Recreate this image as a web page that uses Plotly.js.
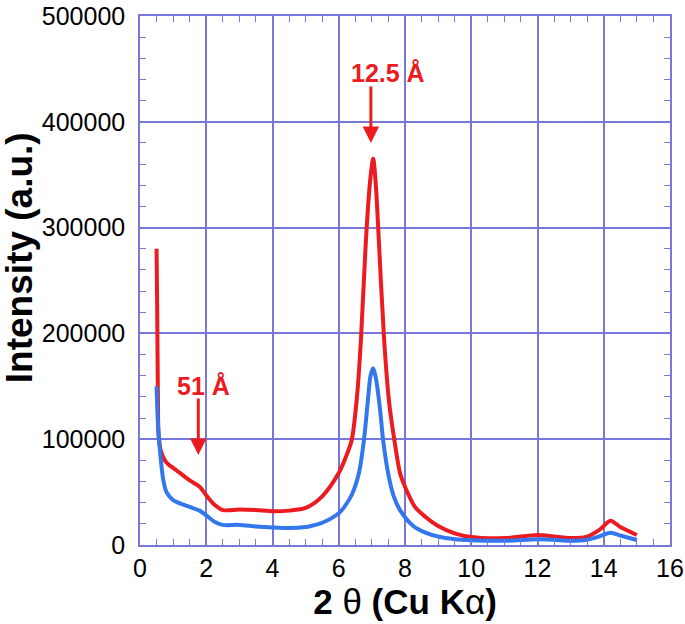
<!DOCTYPE html>
<html>
<head>
<meta charset="utf-8">
<script src="https://cdn.plot.ly/plotly-3.0.1.min.js"></script>
<style>
  body { margin: 0; background: #fff; }
</style>
</head>
<body>
<div id="chart"></div>
<script>
// 2 theta values (deg) and intensities
var redX = [0.5, 0.52, 0.54, 0.56, 0.62, 0.75, 0.9, 1.0, 1.5, 1.8, 2.0, 2.25, 2.5, 3.0, 3.5, 4.0, 4.5, 5.0, 5.5, 6.0, 6.2, 6.39, 6.55, 6.67, 6.82, 6.95, 7.04, 7.12, 7.21, 7.37, 7.52, 7.68, 7.85, 8.0, 8.3, 8.6, 9.0, 9.5, 10, 11, 12, 12.5, 13, 13.5, 13.9, 14.2, 14.5, 15];
var redY = [280000, 220000, 140000, 105000, 90000, 80000, 75000, 73000, 61000, 55000, 47000, 38000, 33000, 33500, 33000, 32000, 32500, 35000, 46000, 68000, 82000, 99000, 140000, 194000, 288000, 345000, 365000, 340000, 288000, 194000, 135000, 99000, 68000, 55000, 36000, 27000, 18000, 11000, 7500, 6500, 9500, 8000, 6500, 8000, 15000, 23000, 17000, 9500];

var blueX = [0.5, 0.52, 0.55, 0.6, 0.7, 0.8, 1.0, 1.5, 1.8, 2.0, 2.25, 2.5, 3.0, 3.5, 4.0, 4.5, 5.0, 5.16, 5.5, 6.0, 6.17, 6.4, 6.61, 6.76, 6.86, 6.96, 7.04, 7.12, 7.24, 7.34, 7.49, 7.65, 7.85, 8.25, 8.6, 9.0, 9.5, 10, 11, 12, 12.5, 13, 13.5, 13.9, 14.2, 14.5, 15];
var blueY = [150000, 130000, 110000, 90000, 62000, 50000, 42500, 36000, 32500, 28000, 22000, 19000, 19000, 17500, 16500, 16000, 17000, 18000, 21000, 30000, 36000, 48000, 68000, 99000, 130000, 160000, 167000, 158000, 130000, 99000, 68000, 47000, 33000, 18000, 12000, 8000, 5500, 4500, 4000, 5500, 5000, 4000, 5000, 8500, 11600, 9000, 4700];

// peak labels: text, arrow x, arrow tip y, label position
var peakLabels = ['12.5 Å', '51 Å'];
var peakX = [6.97, 1.76];
var peakTip = [380000, 85000];
var labelX = [7.49, 1.93];
var labelY = [446000, 150000];

var gridColor = '#7878dc';
var fontFam = 'Liberation Sans, Arial, sans-serif';

var traces = [
    {
        x: redX, y: redY,
        mode: 'lines', type: 'scatter',
        line: { color: '#ec1b1f', width: 4, shape: 'spline', smoothing: 0.8 }
    },
    {
        x: blueX, y: blueY,
        mode: 'lines', type: 'scatter',
        line: { color: '#3377ec', width: 4, shape: 'spline', smoothing: 0.8 }
    }
];

var annotations = [];
for (var i = 0; i < peakLabels.length; i++) {
    // arrow, tail 58px above the tip
    annotations.push({
        x: peakX[i], y: peakTip[i], xref: 'x', yref: 'y',
        ax: 0, ay: -58,
        text: '', showarrow: true,
        arrowhead: 2, arrowsize: 1.1, arrowwidth: 3, arrowcolor: '#ec1b1f'
    });
    // label
    annotations.push({
        x: labelX[i], y: labelY[i], xref: 'x', yref: 'y',
        text: '<b>' + peakLabels[i] + '</b>', showarrow: false,
        font: { family: fontFam, size: 25, color: '#ec1b1f' }
    });
}
// y title as annotation (sits a bit above the plot centre in the picture)
annotations.push({
    x: -0.228, y: 0.5425, xref: 'paper', yref: 'paper',
    xanchor: 'center', yanchor: 'middle',
    text: '<b>Intensity (a.u.)</b>', showarrow: false, textangle: -90,
    font: { family: fontFam, size: 37, color: '#000' }
});

var layout = {
    width: 685, height: 624,
    margin: { l: 140, r: 15, t: 16, b: 79 },
    paper_bgcolor: '#fff', plot_bgcolor: '#fff',
    showlegend: false,
    font: { family: fontFam, color: '#000' },
    xaxis: {
        range: [0, 16], dtick: 2, tick0: 0,
        showgrid: true, gridcolor: gridColor, gridwidth: 1.5,
        showline: true, linecolor: gridColor, linewidth: 1.5, mirror: 'ticks',
        ticks: 'inside', ticklen: 6, tickcolor: gridColor,
        minor: { dtick: 0.5, ticks: 'inside', ticklen: 6, tickcolor: gridColor },
        zeroline: false,
        tickfont: { size: 25 },
        title: { text: '<b>2</b> θ <b>(Cu K</b>α<b>)</b>', font: { size: 35 }, standoff: 6 }
    },
    yaxis: {
        range: [0, 500000], dtick: 100000, tick0: 0,
        showgrid: true, gridcolor: gridColor, gridwidth: 1.5,
        showline: true, linecolor: gridColor, linewidth: 1.5, mirror: 'ticks',
        ticks: 'inside', ticklen: 6, tickcolor: gridColor,
        minor: { dtick: 20000, ticks: 'inside', ticklen: 6, tickcolor: gridColor },
        zeroline: false,
        tickformat: 'd',
        tickfont: { size: 25 },
        ticklabelstandoff: 8
    },
    annotations: annotations
};

Plotly.newPlot('chart', traces, layout, { displayModeBar: false });
</script>
</body>
</html>
